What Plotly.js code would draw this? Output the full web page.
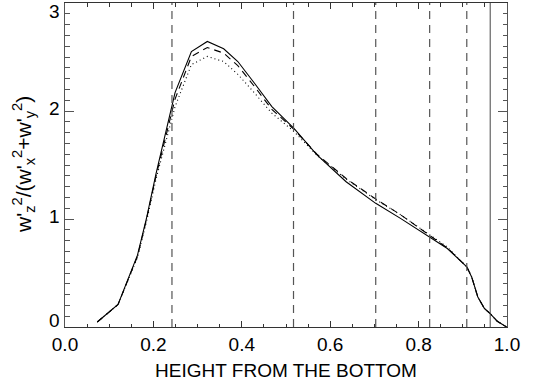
<!DOCTYPE html>
<html>
<head>
<meta charset="utf-8">
<script src="https://cdn.plot.ly/plotly-3.0.1.min.js"></script>
<style>html,body{margin:0;padding:0;background:#fff;}#chart{width:539px;height:388px;}</style>
</head>
<body>
<div id="chart"></div>
<script>
// Height from the bottom (x) and profiles of w'z^2/(w'x^2+w'y^2)
const heights = [0.073, 0.120, 0.164, 0.184, 0.206, 0.227, 0.249, 0.286, 0.322, 0.359, 0.391, 0.430, 0.468, 0.518, 0.570, 0.636, 0.703, 0.759, 0.825, 0.865, 0.909, 0.920, 0.934, 0.949, 0.962, 0.978, 0.999];
const solidVals  = [0.046, 0.208, 0.665, 1.00, 1.42, 1.78, 2.17, 2.55, 2.644, 2.576, 2.458, 2.25, 2.041, 1.840, 1.593, 1.345, 1.145, 1.006, 0.835, 0.727, 0.557, 0.464, 0.278, 0.171, 0.124, 0.053, 0.0];
const dashedVals = [0.046, 0.208, 0.655, 0.99, 1.40, 1.75, 2.11, 2.505, 2.588, 2.536, 2.42, 2.22, 2.015, 1.830, 1.600, 1.375, 1.185, 1.040, 0.850, 0.732, 0.557, 0.464, 0.278, 0.171, 0.124, 0.053, 0.0];
const dottedVals = [0.046, 0.208, 0.645, 0.97, 1.37, 1.70, 2.04, 2.43, 2.505, 2.458, 2.34, 2.16, 1.980, 1.810, 1.590, 1.370, 1.180, 1.040, 0.855, 0.740, 0.557, 0.464, 0.278, 0.171, 0.124, 0.053, 0.0];
const dashedMarkers = [0.242, 0.517, 0.703, 0.825, 0.909];
const solidMarkers = [0.962];
const xTicks = [0.0, 0.2, 0.4, 0.6, 0.8, 1.0];
const yTicks = [0, 1, 2, 3];
const xTitle = 'HEIGHT FROM THE BOTTOM';
const yTitle = "w'<sub>z</sub><sup>2</sup>/(w'<sub>x</sub><sup>2</sup>+w'<sub>y</sub><sup>2</sup>)";

const lineBase = {type: 'scatter', mode: 'lines', x: heights, hoverinfo: 'skip', showlegend: false};
const traces = [
  Object.assign({}, lineBase, {y: solidVals,  line: {color: '#000', width: 1.1, dash: 'solid'}}),
  Object.assign({}, lineBase, {y: dashedVals, line: {color: '#000', width: 1.1, dash: '7px,5px'}}),
  Object.assign({}, lineBase, {y: dottedVals, line: {color: '#000', width: 1.1, dash: '1px,3px'}})
];

const shapes = [];
dashedMarkers.forEach(v => shapes.push({type: 'line', xref: 'x', yref: 'paper', x0: v, x1: v, y0: 0, y1: 1,
  line: {color: '#555', width: 1.2, dash: '8px,6px'}}));
solidMarkers.forEach(v => shapes.push({type: 'line', xref: 'x', yref: 'paper', x0: v, x1: v, y0: 0, y1: 1,
  line: {color: '#444', width: 1}}));

const fontFam = 'Liberation Sans, Arial, Helvetica, sans-serif';
// IDL-style label placement: small vertical nudges per tick label
const yLabelShift = {0: 7, 1: 3, 2: 3, 3: -8};
const annotations = yTicks.map(v => ({
  xref: 'paper', yref: 'y', x: 0, y: v, xanchor: 'right', yanchor: 'middle',
  xshift: -3, yshift: yLabelShift[v], showarrow: false, text: String(v),
  font: {size: 19, family: fontFam, color: '#000'}
}));
annotations.push({
  xref: 'paper', yref: 'paper', x: 0, y: 0.5, xanchor: 'center', yanchor: 'middle',
  xshift: -42, showarrow: false, textangle: -90, text: yTitle,
  font: {size: 21, family: fontFam, color: '#000'}
});

const layout = {
  width: 539, height: 388,
  margin: {l: 65, r: 32, t: 3, b: 61, pad: 0},
  paper_bgcolor: '#fff', plot_bgcolor: '#fff',
  font: {family: fontFam, color: '#000', size: 19},
  showlegend: false,
  shapes: shapes,
  annotations: annotations,
  xaxis: {
    range: [0, 1], tickvals: xTicks, ticktext: xTicks.map(v => v.toFixed(1)),
    ticks: 'inside', ticklen: 6, tickwidth: 1, tickcolor: '#333',
    minor: {dtick: 0.05, tick0: 0, ticks: 'inside', ticklen: 3.5, tickwidth: 1, tickcolor: '#333', showgrid: false},
    showline: true, linecolor: '#333', linewidth: 1.2, mirror: 'ticks',
    showgrid: false, zeroline: false,
    tickfont: {size: 19, family: fontFam},
    title: {text: xTitle, font: {size: 19, family: fontFam}, standoff: 9}
  },
  yaxis: {
    range: [0, 3], tickvals: yTicks, showticklabels: false,
    ticks: 'inside', ticklen: 9, tickwidth: 1, tickcolor: '#555',
    minor: {dtick: 0.1, tick0: 0, ticks: 'inside', ticklen: 4.5, tickwidth: 1, tickcolor: '#555', showgrid: false},
    showline: true, linecolor: '#555', linewidth: 1, mirror: 'ticks',
    showgrid: false, zeroline: false
  }
};

Plotly.newPlot('chart', traces, layout, {staticPlot: true, displayModeBar: false});
</script>
</body>
</html>
